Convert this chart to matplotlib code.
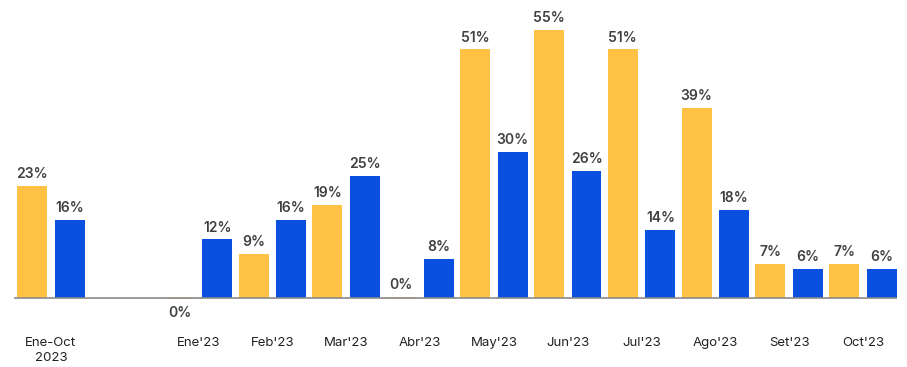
import numpy as np
import matplotlib.pyplot as plt

plt.rcParams['font.family'] = ['Inter', 'DejaVu Sans']

# categories and positions of the groups (one empty slot after the first group)
labels = ["Ene-Oct\n2023", "Ene'23", "Feb'23", "Mar'23", "Abr'23", "May'23",
          "Jun'23", "Jul'23", "Ago'23", "Set'23", "Oct'23"]
slots = [0, 2, 3, 4, 5, 6, 7, 8, 9, 10, 11]
yellow_vals = [23, -0.3, 9, 19, 0.2, 51, 55, 51, 39, 7, 7]
blue_vals = [16, 12, 16, 25, 8, 30, 26, 14, 18, 6, 6]

yellow = '#FFC244'
blue = '#0A50E0'
txt = '#404040'

fig = plt.figure(figsize=(9.07, 3.67), dpi=100)
ax = fig.add_axes([14 / 907, 0.1616, (897 - 14) / 907, 0.8233])

x = np.array(slots, dtype=float)
w = 0.405
off = 0.255
b1 = ax.bar(x - off, yellow_vals, w, color=yellow)
b2 = ax.bar(x + off, blue_vals, w, color=blue)

for bars, vals in [(b1, yellow_vals), (b2, blue_vals)]:
    for b, v in zip(bars, vals):
        cx = b.get_x() + b.get_width() / 2
        if v < 0:
            ax.annotate(f"{abs(round(v)):.0f}%", (cx, v), xytext=(0, -5),
                        textcoords='offset points', ha='center', va='top',
                        fontsize=10, color=txt, fontweight='semibold')
        else:
            ax.annotate(f"{round(v):.0f}%", (cx, v), xytext=(0, 3.5),
                        textcoords='offset points', ha='center', va='bottom',
                        fontsize=10, color=txt, fontweight='semibold')

ax.axhline(0, color='#8a8a8a', lw=1.2, zorder=3)
ax.set_xlim(-0.5, 11.46)
ax.set_ylim(-2, 60)
ax.set_yticks([])
ax.set_xticks(x)
ax.set_xticklabels(labels, fontsize=9.5, color='#222222', va='top',
                   linespacing=1.3)
ax.tick_params(axis='x', length=0, pad=21)
for s in ax.spines.values():
    s.set_visible(False)

fig.savefig('out.png', dpi=100)
